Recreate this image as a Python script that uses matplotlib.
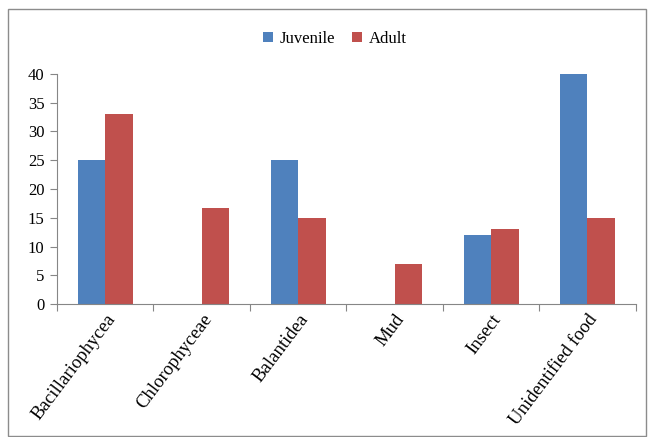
import matplotlib
matplotlib.use("Agg")
import matplotlib.pyplot as plt
from matplotlib.patches import Rectangle
import numpy as np

categories = ["Bacillariophycea", "Chlorophyceae", "Balantidea", "Mud", "Insect", "Unidentified food"]
juvenile = [25, 0, 25, 0, 12, 40]
adult = [33, 16.7, 15, 7, 13, 15]
yticks = [0, 5, 10, 15, 20, 25, 30, 35, 40]

plt.rcParams["font.family"] = ["Liberation Serif", "DejaVu Serif"]

fig = plt.figure(figsize=(6.5, 4.37), dpi=100)
ax = fig.add_axes([0.0877, 0.304, 0.8903, 0.527])

x = np.arange(len(categories))
w = 0.285
ax.bar(x - w / 2, juvenile, w, color="#4F81BD", label="Juvenile")
ax.bar(x + w / 2, adult, w, color="#C0504D", label="Adult")

ax.set_xlim(-0.5, len(categories) - 0.5)
ax.set_ylim(0, 40)
ax.set_yticks(yticks)
ax.set_yticklabels([str(v) for v in yticks], fontsize=12)

ax.set_xticks(np.arange(-0.5, len(categories), 1.0))
ax.set_xticklabels([])
ax.set_xticks(x, minor=True)
ax.set_xticklabels(categories, minor=True, rotation=53, ha="right",
                   rotation_mode="anchor", fontsize=13.5)
ax.tick_params(axis="x", which="minor", length=0, pad=5)
ax.tick_params(axis="x", which="major", length=5, color="#868686")
ax.tick_params(axis="y", length=5, color="#868686", pad=4)

for s in ("top", "right"):
    ax.spines[s].set_visible(False)
for s in ("left", "bottom"):
    ax.spines[s].set_color("#868686")

ax.legend(loc="center", bbox_to_anchor=(0.48, 1.152), ncol=2, frameon=False,
          fontsize=12, handlelength=0.6, handleheight=0.6, handletextpad=0.4,
          columnspacing=1.0)

fig.patches.append(Rectangle((8 / 650, 0.002), 638 / 650, 1 - 9 / 437 - 0.002,
                             transform=fig.transFigure, fill=False,
                             edgecolor="#8c8c8c", linewidth=1.0))

fig.savefig("out.png", dpi=100)
